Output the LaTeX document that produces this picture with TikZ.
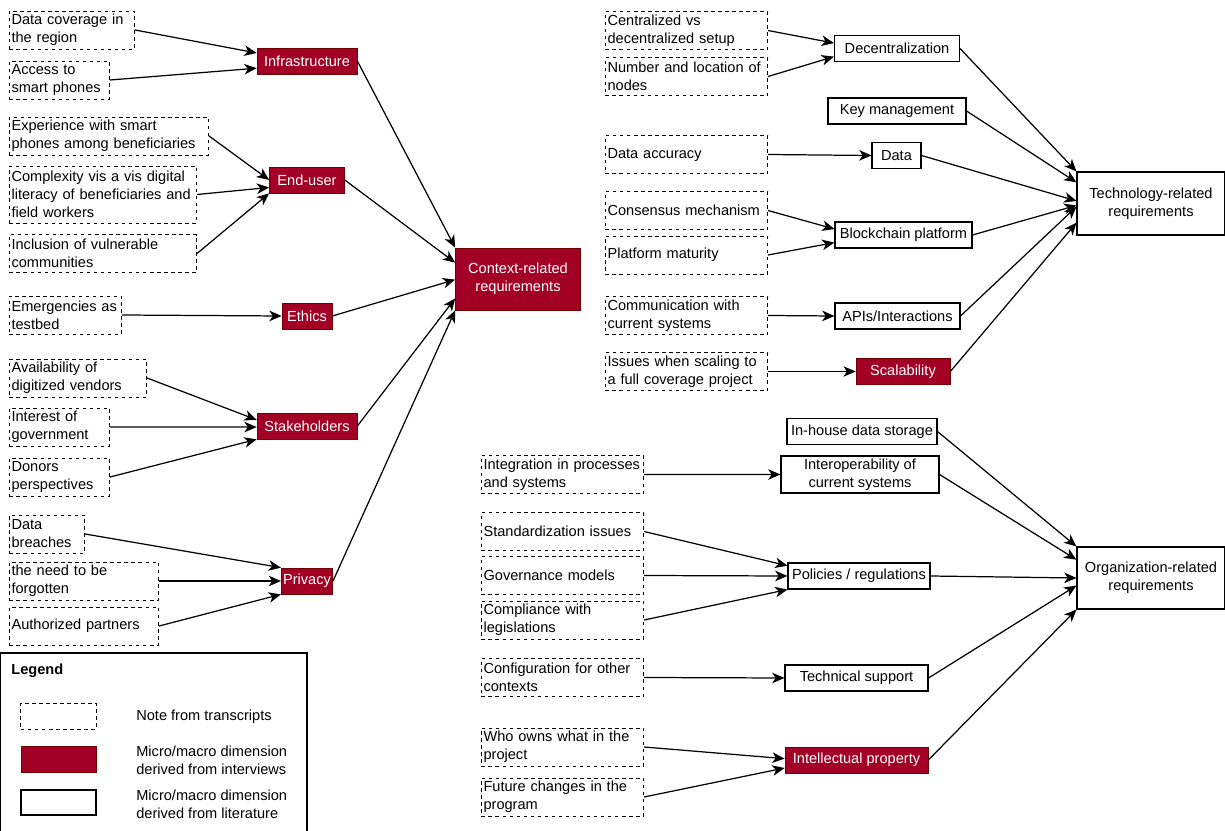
\documentclass[tikz,border=0pt]{standalone}
\usepackage{fontspec}
\setmainfont{Liberation Sans}
\usetikzlibrary{arrows.meta,calc}
\definecolor{dimred}{HTML}{A20025}
\definecolor{dimborder}{HTML}{6F0000}
\newcommand\diagfont{\fontsize{8.3}{10.2}\selectfont}
\tikzset{
    every node/.style={font=\diagfont},
    note/.style={draw, dash pattern=on 2pt off 2pt, line width=0.5pt, anchor=west, align=left,
        text width=#1, inner xsep=1.2pt, inner ysep=1pt, minimum height=0.76cm},
    dim/.style={fill=dimred, draw=dimborder, text=white, minimum width=#1, minimum height=0.52cm,
        inner xsep=1pt, inner ysep=1pt, align=center},
    lit/.style={draw, line width=0.6pt, fill=white, minimum width=#1, minimum height=0.52cm,
        inner xsep=1pt, inner ysep=1pt, align=center},
    link/.style={-{Stealth[length=7pt,width=6pt,inset=2pt]}, line width=0.7pt}
}
\begin{document}
\begin{tikzpicture}[x=0.02cm, y=-0.02cm]
    \useasboundingbox (0,0) rectangle (1225,831);
    % context-related
    \node[note=2.42cm] (n1) at (9,30) {Data coverage in\\the region};
    \node[note=1.92cm] (n2) at (9,80) {Access to\\smart phones};
    \node[note=3.90cm] (n3) at (9,136) {Experience with smart\\phones among beneficiaries};
    \node[note=3.66cm, minimum height=1.14cm] (n4) at (9,194.5) {Complexity vis a vis digital\\literacy of beneficiaries and\\field workers};
    \node[note=3.66cm] (n5) at (9,253.5) {Inclusion of vulnerable\\communities};
    \node[note=2.16cm] (n6) at (9,315) {Emergencies as\\testbed};
    \node[note=2.66cm] (n7) at (9,378) {Availability of\\digitized vendors};
    \node[note=1.92cm] (n8) at (9,427) {Interest of\\government};
    \node[note=1.92cm] (n9) at (9,477) {Donors\\perspectives};
    \node[note=1.42cm] (n10) at (9,534) {Data\\breaches};
    \node[note=2.90cm] (n11) at (9,581) {the need to be\\forgotten};
    \node[note=2.90cm] (n12) at (9,626) {Authorized partners};
    \node[dim=2.0cm] (infra) at (307,61) {Infrastructure};
    \node[dim=1.5cm] (enduser) at (307,180) {End-user};
    \node[dim=1.0cm] (ethics) at (307,316) {Ethics};
    \node[dim=2.0cm] (stake) at (307,426) {Stakeholders};
    \node[dim=1.0cm] (privacy) at (307,581) {Privacy};
    \node[dim=2.5cm, minimum height=1.24cm] (ctx) at (518,279) {Context-related\\requirements};
    % technology-related
    \node[note=3.16cm] (c1) at (605,30.5) {Centralized vs\\decentralized setup};
    \node[note=3.16cm] (c2) at (605,76.5) {Number and location of\\nodes};
    \node[note=3.16cm] (c3) at (605,154.5) {Data accuracy};
    \node[note=3.16cm] (c4) at (605,210.5) {Consensus mechanism};
    \node[note=3.16cm] (c5) at (605,255) {Platform maturity};
    \node[note=3.16cm] (c6) at (605,315.5) {Communication with\\current systems};
    \node[note=3.16cm] (c7) at (605,371.5) {Issues when scaling to\\a full coverage project};
    \node[lit=2.5cm] (decen) at (897,48.5) {Decentralization};
    \node[lit=2.76cm] (keymgmt) at (897,111) {Key management};
    \node[lit=0.98cm] (data) at (896.5,155.5) {Data};
    \node[lit=2.74cm] (chain) at (903.5,235) {Blockchain platform};
    \node[lit=2.5cm] (apis) at (897.5,316) {APIs/Interactions};
    \node[dim=1.88cm] (scal) at (903,371.5) {Scalability};
    \node[lit=2.96cm, minimum height=1.26cm] (tech) at (1151,203.5) {Technology-related\\requirements};
    % organization-related
    \node[note=3.16cm] (o1) at (481,474.5) {Integration in processes\\and systems};
    \node[note=3.16cm] (o2) at (481,531.5) {Standardization issues};
    \node[note=3.16cm] (o3) at (481,575.5) {Governance models};
    \node[note=3.16cm] (o4) at (481,620) {Compliance with\\legislations};
    \node[note=3.16cm] (o5) at (481,677.5) {Configuration for other\\contexts};
    \node[note=3.16cm] (o6) at (481,747) {Who owns what in the\\project};
    \node[note=3.16cm] (o7) at (481,797) {Future changes in the\\program};
    \node[lit=3.0cm] (inhouse) at (862,431.5) {In-house data storage};
    \node[lit=3.16cm, minimum height=0.74cm] (interop) at (860,474.5) {Interoperability of\\current systems};
    \node[lit=2.84cm] (policies) at (859,576) {Policies / regulations};
    \node[lit=2.86cm] (techsup) at (856.5,678) {Technical support};
    \node[dim=2.86cm] (ip) at (856.5,760) {Intellectual property};
    \node[lit=2.96cm, minimum height=1.24cm] (org) at (1151,578) {Organization-related\\requirements};
    \foreach \src/\dst/\f in {n1/infra/.2, n2/infra/.77, n3/enduser/.5, n4/enduser/.78, n5/enduser/1,
            n6/ethics/.5, n7/stake/.27, n8/stake/.54, n9/stake/1, n10/privacy/0, n11/privacy/.5, n12/privacy/1,
            infra/ctx/0, enduser/ctx/.24, ethics/ctx/.51, stake/ctx/.81, privacy/ctx/1,
            c1/decen/.3, c2/decen/.8, c3/data/.5, c4/chain/.28, c5/chain/.78, c6/apis/.5, c7/scal/.5,
            decen/tech/0, keymgmt/tech/.17, data/tech/.46, chain/tech/.53, apis/tech/.55, scal/tech/.8,
            o1/interop/.5, o2/policies/.12, o3/policies/.5, o4/policies/1, o5/techsup/.5, o6/ip/.45, o7/ip/.8,
            inhouse/org/0, interop/org/.21, policies/org/.5, techsup/org/.62, ip/org/1}
        \draw[link] (\src.east) -- ($(\dst.north west)!\f!(\dst.south west)$);
    % legend
    \draw[line width=0.7pt] (0.5,831) |- (307,653) -- (307,831);
    \node[anchor=west, inner sep=0pt, font=\diagfont\bfseries] (lgtitle) at (11,671) {Legend};
    \node[note=1.42cm, anchor=center, minimum height=0.52cm] (lgnote) at (58.5,716) {};
    \node[dim=1.5cm] (lgdim) at (58.5,759) {};
    \node[lit=1.5cm, minimum height=0.5cm] (lglit) at (58.5,802.5) {};
    \node[anchor=west, align=left, inner sep=0pt] (lgnotetxt) at (136,717) {Note from transcripts};
    \node[anchor=west, align=left, inner sep=0pt] (lgdimtxt) at (136,760) {Micro/macro dimension\\derived from interviews};
    \node[anchor=west, align=left, inner sep=0pt] (lglittxt) at (136,804) {Micro/macro dimension\\derived from literature};
\end{tikzpicture}
\end{document}
